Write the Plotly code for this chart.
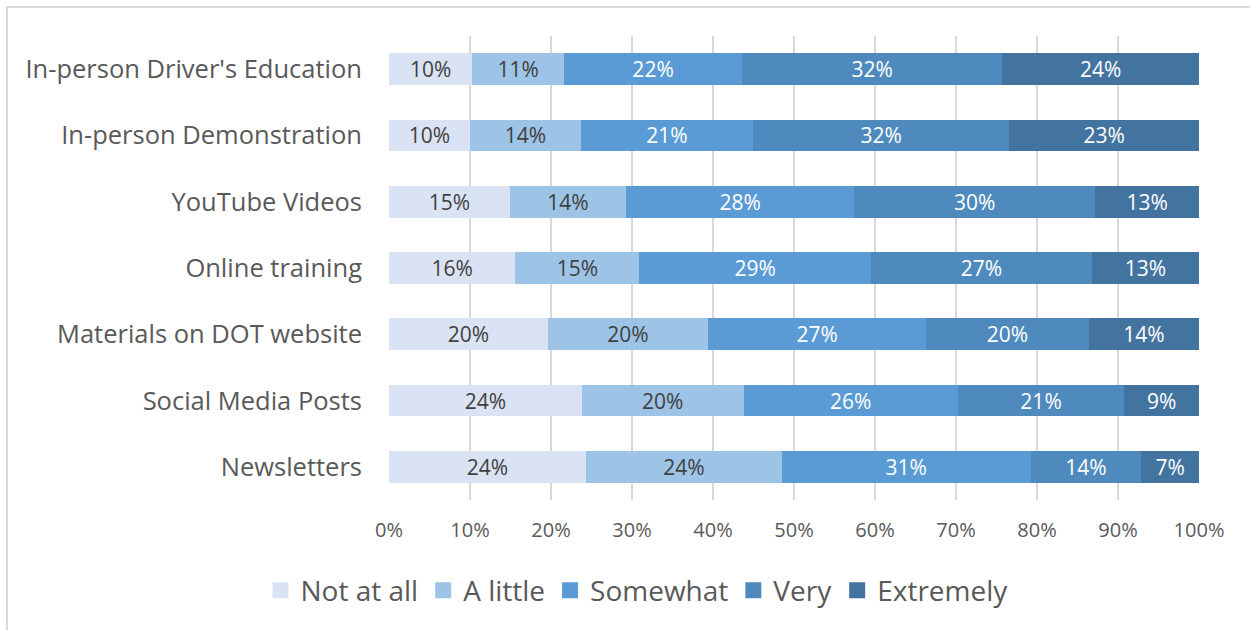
import plotly.graph_objects as go

# Survey: how helpful each training channel is (share of respondents, %)
categories = [
    "In-person Driver's Education",
    "In-person Demonstration",
    "YouTube Videos",
    "Online training",
    "Materials on DOT website",
    "Social Media Posts",
    "Newsletters",
]
levels = ["Not at all", "A little", "Somewhat", "Very", "Extremely"]

not_at_all = [10.3, 10.0, 14.9, 15.6, 19.6, 23.8, 24.3]
a_little   = [11.3, 13.7, 14.4, 15.3, 19.8, 20.0, 24.2]
somewhat   = [22.0, 21.2, 28.1, 28.6, 26.9, 26.4, 30.7]
very       = [32.1, 31.7, 29.8, 27.3, 20.1, 20.6, 13.7]
extremely  = [24.3, 23.4, 12.8, 13.2, 13.6,  9.2,  7.1]

series = [not_at_all, a_little, somewhat, very, extremely]
colors = ["#DAE3F3", "#9DC3E6", "#5B9BD5", "#4F8ABE", "#43739F"]
text_colors = ["#404040", "#404040", "#FFFFFF", "#FFFFFF", "#FFFFFF"]

FONT = "Open Sans"

fig = go.Figure()
for name, vals, col, tcol in zip(levels, series, colors, text_colors):
    fig.add_trace(go.Bar(
        y=categories,
        x=vals,
        name=name,
        orientation="h",
        marker=dict(color=col, line=dict(width=0)),
        text=[f"{v:.0f}%" for v in vals],
        texttemplate="%{text}",
        textposition="inside",
        insidetextanchor="middle",
        textangle=0,
        textfont=dict(family=FONT, size=21, color=tcol),
        constraintext="none",
        showlegend=False,
        hoverinfo="skip",
    ))

# legend entries with larger square swatches
for name, col in zip(levels, colors):
    fig.add_trace(go.Scatter(
        x=[None], y=[None],
        mode="markers",
        name=name,
        marker=dict(symbol="square", size=16, color=col),
        showlegend=True,
        hoverinfo="skip",
    ))

fig.update_layout(
    barmode="stack",
    bargap=0.52,
    width=1250,
    height=630,
    paper_bgcolor="white",
    plot_bgcolor="white",
    margin=dict(l=389, r=51, t=36, b=130),
    font=dict(family=FONT, color="#595959"),
    uniformtext=dict(minsize=10, mode="show"),
    xaxis=dict(
        range=[0, 100],
        tickvals=[0, 10, 20, 30, 40, 50, 60, 70, 80, 90, 100],
        ticktext=[f"{t}%" for t in range(0, 101, 10)],
        showgrid=True,
        gridcolor="#D9D9D9",
        gridwidth=1.5,
        zeroline=False,
        showline=False,
        ticks="",
        ticklabelstandoff=16,
        tickfont=dict(family=FONT, size=20, color="#595959"),
        fixedrange=True,
    ),
    yaxis=dict(
        categoryorder="array",
        categoryarray=categories[::-1],
        showgrid=False,
        zeroline=False,
        showline=False,
        ticks="",
        ticklabelstandoff=26,
        tickfont=dict(family=FONT, size=25.5, color="#595959"),
        fixedrange=True,
    ),
    legend=dict(
        orientation="h",
        x=(637 - 389) / 810,
        xanchor="center",
        y=-0.195,
        yanchor="middle",
        font=dict(family=FONT, size=28, color="#595959"),
        traceorder="normal",
        itemwidth=30,
        bgcolor="rgba(0,0,0,0)",
    ),
    shapes=[
        dict(
            type="rect", xref="paper", yref="paper",
            x0=(7 - 389) / 810, x1=2.0,
            y0=-2.0, y1=(500 - 7) / 464,
            line=dict(color="#D9D9D9", width=2),
            fillcolor="rgba(0,0,0,0)",
            layer="below",
        )
    ],
)

fig.write_html("out.html")
